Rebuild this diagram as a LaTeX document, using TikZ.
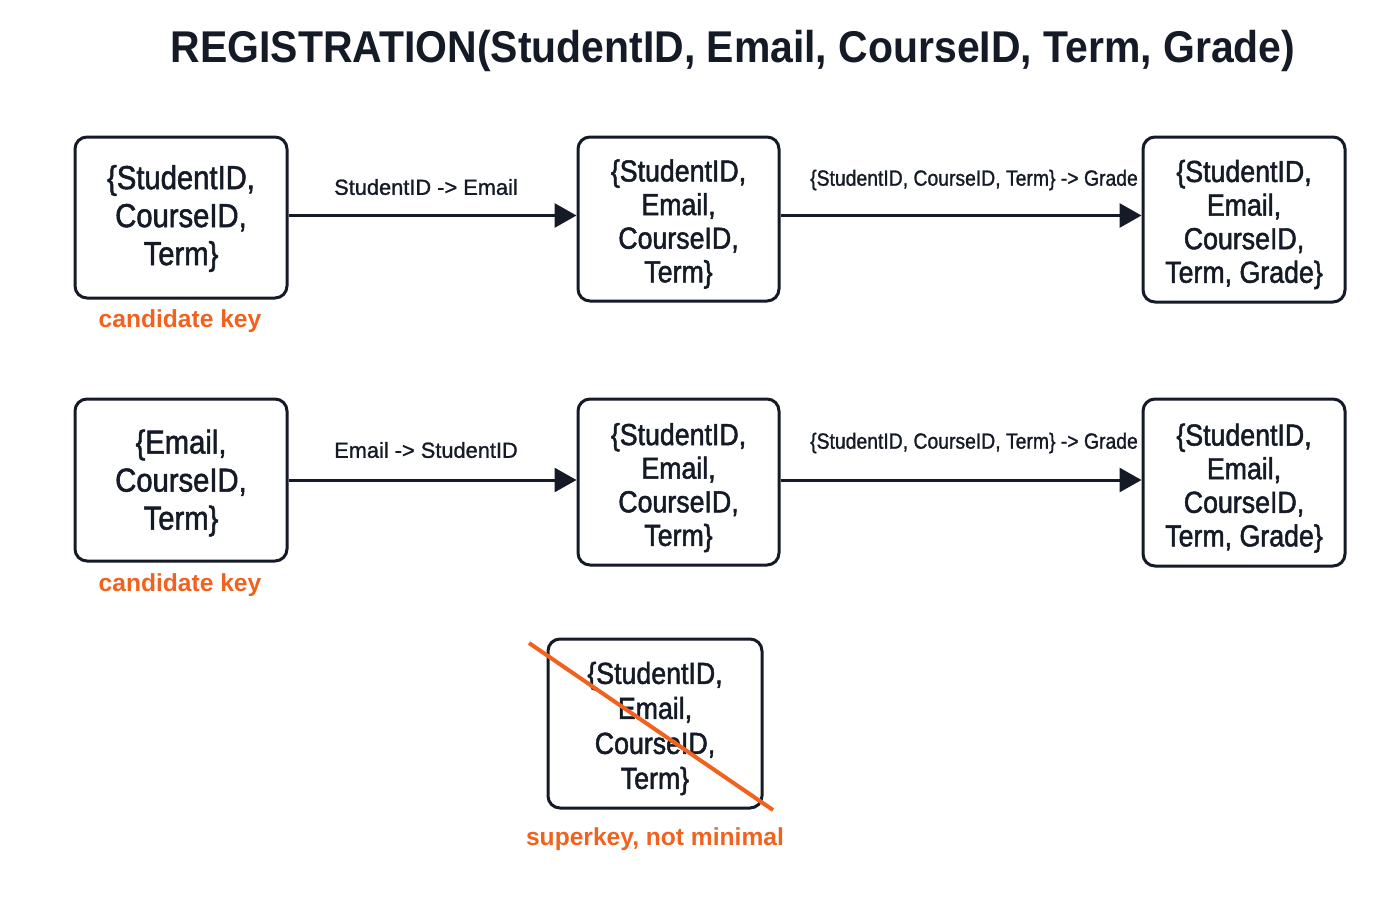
\documentclass[tikz,border=0pt]{standalone}
\usepackage{fontspec}
\setmainfont{Liberation Sans}
\newfontfamily\cond[FakeStretch=0.88,FakeBold=1.6]{Liberation Sans}
\newfontfamily\condl[FakeStretch=0.88,FakeBold=1.2]{Liberation Sans}
\newfontfamily\med[FakeBold=1.2]{Liberation Sans}
\newfontfamily\titlef[FakeStretch=0.92]{Liberation Sans}
\usetikzlibrary{arrows.meta}
\definecolor{ink}{HTML}{141A26}
\definecolor{orng}{HTML}{F2621F}
\begin{document}
\begin{tikzpicture}[x=0.5pt,y=-0.5pt,
  keybox/.style={draw=ink,line width=1.5pt,rounded corners=6pt,inner sep=0pt},
  boxtext/.style={align=center,text=ink,inner sep=0pt},
  big/.style={boxtext,font=\cond\fontsize{16.6}{19}\selectfont},
  small/.style={boxtext,font=\cond\fontsize{15.2}{16.8}\selectfont},
  arr/.style={draw=ink,line width=1.5pt,-{Triangle[length=11pt,width=12pt]}},
  lbl/.style={text=ink,inner sep=0pt,font=\med\fontsize{10.9}{12}\selectfont},
  lblc/.style={text=ink,inner sep=0pt,font=\condl\fontsize{11}{12}\selectfont},
  note/.style={text=orng,inner sep=0pt,font=\bfseries\fontsize{12.3}{14}\selectfont}]
\useasboundingbox[fill=white] (0,0) rectangle (1400,900);

\node[text=ink,font=\titlef\bfseries\fontsize{22.25}{26}\selectfont] (title) at (733,51) {REGISTRATION(StudentID, Email, CourseID, Term, Grade)};

% row 1
\node[keybox,minimum width=106pt,minimum height=80.5pt] (A) at (181,217.5) {};
\node[big] (At) at ([yshift=-0.5pt]A.center) {\{StudentID,\\CourseID,\\Term\}};
\node[keybox,minimum width=100.5pt,minimum height=82pt] (B) at (678.5,219) {};
\node[small] (Bt) at ([yshift=-2.5pt]B.center) {\{StudentID,\\Email,\\CourseID,\\Term\}};
\node[keybox,minimum width=101pt,minimum height=82.5pt] (C) at (1244,219.5) {};
\node[small] (Ct) at ([yshift=-2.5pt]C.center) {\{StudentID,\\Email,\\CourseID,\\Term, Grade\}};
\draw[arr] ([yshift=1pt]A.east) -- ([yshift=1pt]A.east -| B.west);
\draw[arr] ([yshift=1pt]B.east |- A.east) -- ([yshift=1pt]A.east -| C.west);
\node[lbl] (l1) at (426,187) {StudentID -> Email};
\node[lblc] (l2) at (974,180) {\{StudentID, CourseID, Term\} -> Grade};
\node[note] (n1) at (180,321) {candidate key};

% row 2
\node[keybox,minimum width=106pt,minimum height=81pt] (D) at (181,480) {};
\node[big] (Dt) at ([yshift=-1.5pt]D.center) {\{Email,\\CourseID,\\Term\}};
\node[keybox,minimum width=100.5pt,minimum height=83pt] (E) at (678.5,482) {};
\node[small] (Et) at ([yshift=-2.8pt]E.center) {\{StudentID,\\Email,\\CourseID,\\Term\}};
\node[keybox,minimum width=101pt,minimum height=83.5pt] (F) at (1244,482.5) {};
\node[small] (Ft) at ([yshift=-2.8pt]F.center) {\{StudentID,\\Email,\\CourseID,\\Term, Grade\}};
\draw[arr] (D.east) -- (D.east -| E.west);
\draw[arr] (E.east |- D.east) -- (D.east -| F.west);
\node[lbl] (l3) at (426,450) {Email -> StudentID};
\node[lblc] (l4) at (974,443) {\{StudentID, CourseID, Term\} -> Grade};
\node[note] (n2) at (180,585) {candidate key};

% superkey
\node[keybox,minimum width=107pt,minimum height=84.5pt] (G) at (655,723.5) {};
\node[boxtext,font=\cond\fontsize{15.2}{17.5}\selectfont] (Gt) at ([yshift=-2.5pt]G.center) {\{StudentID,\\Email,\\CourseID,\\Term\}};
\coordinate (s1) at (529,643);
\coordinate (s2) at (773,810);
\draw[orng,line width=2pt] (s1) -- (s2);
\node[note] (n3) at (655,839) {superkey, not minimal};
\end{tikzpicture}
\end{document}
